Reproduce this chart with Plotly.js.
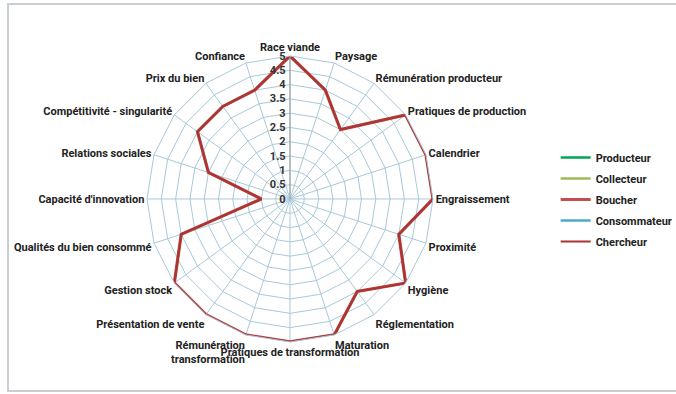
<!DOCTYPE html>
<html><head><meta charset="utf-8">
<script src="https://cdn.plot.ly/plotly-3.0.1.min.js"></script>
<style>html,body{margin:0;padding:0;background:#fff;}#chart{width:676px;height:394px;}</style>
</head><body><div id="chart"></div>
<script>
const categories = ["Race viande","Paysage","Rémunération producteur","Pratiques de production","Calendrier","Engraissement","Proximité","Hygiène","Réglementation","Maturation","Pratiques de transformation","Rémunération<br>transformation","Présentation de vente","Gestion stock","Qualités du bien consommé","Capacité d'innovation","Relations sociales","Compétitivité - singularité","Prix du bien","Confiance"];
const boucher = [5,4,3,5,5,5,4,5,4,5,5,5,5,5,4,1,3,4,4,4];
const chercheur = [5,4,3,5,5,5,4,5,4,5,5,5,5,5,4,1,3,4,4,4];
const producteur = [];
const collecteur = [];
const consommateur = [];
const radialTicks = [0,0.5,1,1.5,2,2.5,3,3.5,4,4.5,5];

const close = a => a.concat([a[0]]);
const cats = categories.concat([categories[0]]);
const FONT = "Liberation Sans Narrow, Roboto, sans-serif";

function tr(name, vals, color, width){
  const has = vals.length > 0;
  return {type:'scatterpolar', mode:'lines', name:name, legendgroup:name,
    r: has ? close(vals) : [null], theta: has ? cats : [categories[0]],
    line:{color:color, width:width}, hoverinfo:'skip'};
}
const data = [
  tr('Producteur', producteur, '#00A651', 2.5),
  tr('Collecteur', collecteur, '#9BBB59', 2.5),
  tr('Boucher', boucher, '#C0504D', 3.2),
  tr('Consommateur', consommateur, '#4BACC6', 2.5),
  tr('Chercheur', chercheur, '#AA3530', 2.2)
];
const L = 8/676, T = 1 - 4/394, B = 3/394;
const layout = {
  width:676, height:394, margin:{l:0,r:0,t:0,b:0, autoexpand:false},
  paper_bgcolor:'#fff', showlegend:true,
  font:{family:FONT, size:11, color:'#222'},
  polar:{
    domain:{x:[0.2175,0.6405], y:[0.132,0.858]},
    bgcolor:'rgba(0,0,0,0)',
    gridshape:'linear',
    angularaxis:{direction:'clockwise', rotation:90, type:'category',
      gridcolor:'#A9C9DA', gridwidth:1, linecolor:'#A9C9DA', linewidth:1, showline:true,
      ticks:'', tickfont:{family:FONT, size:11, color:'#222', weight:'bold'}},
    radialaxis:{range:[0,5], tickvals:radialTicks, ticktext:radialTicks.map(String), angle:90, tickangle:90,
      side:'counterclockwise', showline:true, linecolor:'#999', linewidth:1,
      gridcolor:'#A9C9DA', gridwidth:1, ticks:'', tickfont:{family:FONT, size:11, color:'#333', weight:'bold'}}
  },
  legend:{x:0.822, y:0.637, xanchor:'left', yanchor:'top', tracegroupgap:2,
    font:{family:FONT, size:11, color:'#222', weight:'bold'}, itemwidth:30, bgcolor:'rgba(0,0,0,0)'},
  shapes:[{type:'path', xref:'paper', yref:'paper',
    path:`M 1.02 ${T} L ${L} ${T} L ${L} ${B} L 1.02 ${B}`,
    line:{color:'#C9CDD4', width:2}, layer:'below'}]
};
Plotly.newPlot('chart', data, layout, {staticPlot:true});
</script></body></html>
